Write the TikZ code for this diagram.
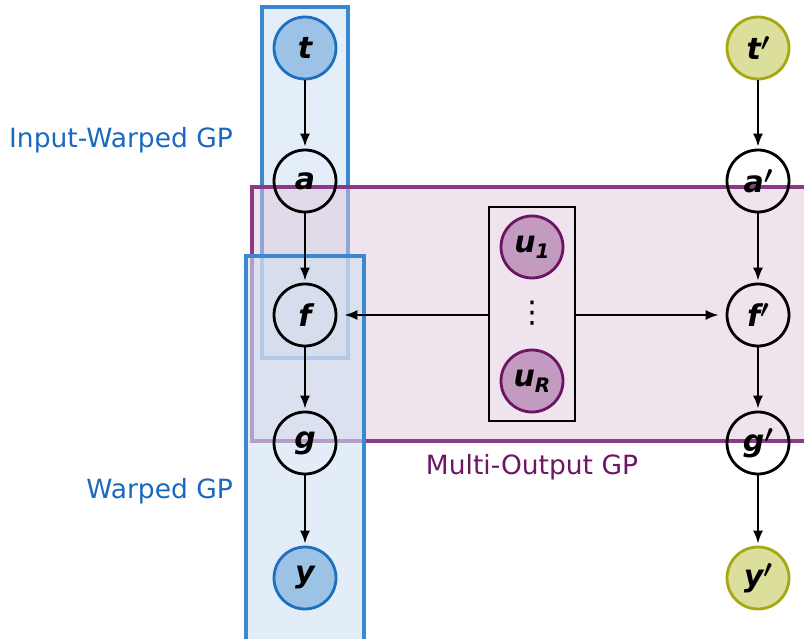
\documentclass[tikz,border=0pt]{standalone}
\usepackage{fontspec}
\setmainfont{DejaVu Sans}
\usetikzlibrary{arrows.meta,fit}

\definecolor{obsblue}{HTML}{9CC2E6}
\definecolor{obsblueline}{HTML}{1F6FBF}
\definecolor{obsolive}{HTML}{DCDE9C}
\definecolor{obsoliveline}{HTML}{A6A812}
\definecolor{indfill}{HTML}{C49BC0}
\definecolor{indline}{HTML}{6C1464}
\definecolor{plateblue}{HTML}{3A88CF}
\definecolor{platepurple}{HTML}{8B3A87}
\definecolor{labelblue}{HTML}{1A68BF}
\definecolor{labelpurple}{HTML}{6E1664}
\definecolor{warpfill}{RGB}{208,225,242}
\definecolor{mofill}{RGB}{223,199,219}

\newcommand{\lowidx}[1]{\raisebox{-0.2em}{\fontsize{20}{20}\selectfont #1}}
\newcommand{\prm}{\raisebox{0.3em}{$\prime$}}

\tikzset{
  latent/.style={circle, draw=black, line width=2.8pt, minimum size=62pt,
    inner sep=0pt, font=\fontsize{30}{30}\selectfont\bfseries\itshape\boldmath},
  obs/.style={latent, draw=obsblueline, fill=obsblue},
  obsb/.style={latent, draw=obsoliveline, fill=obsolive},
  ind/.style={latent, draw=indline, fill=indfill},
  edge/.style={-{Latex[length=13pt,width=10pt]}, line width=2pt, shorten >=2pt},
  plabel/.style={inner sep=0pt, font=\fontsize{26.5}{26.5}\selectfont}
}

\begin{document}
\begin{tikzpicture}[x=1pt,y=-1pt]
  \clip (0,0) rectangle (804,639);
  % plates
  \draw[plateblue, line width=3.8pt, fill=plateblue, fill opacity=0.14]
    (262,7) rectangle (348,358);
  \draw[platepurple, line width=3.8pt, fill=mofill, fill opacity=0.5]
    (252,187) rectangle (840,441);
  \draw[plateblue, line width=3.8pt, fill=warpfill, fill opacity=0.6]
    (246,256) rectangle (364,680);
  % left column
  \node[obs] (t) at (305,48) {t};
  \node[latent] (a) at (305,181) {a};
  \node[latent] (f) at (305,315) {f};
  \node[latent] (g) at (305,443) {g};
  \node[obs] (y) at (305,578) {y};
  % right column
  \node[obsb] (t2) at (758,48) {t\prm};
  \node[latent] (a2) at (758,181) {a\prm};
  \node[latent] (f2) at (758,315) {f\prm};
  \node[latent] (g2) at (758,443) {g\prm};
  \node[obsb] (y2) at (758,578) {y\prm};
  % inducing variables
  \node[ind] (u1) at (532,247) {u\lowidx{1}};
  \node[ind] (uR) at (532,381) {u\lowidx{R}};
  \node[inner sep=0pt, font=\fontsize{30}{30}\selectfont] (dots) at (532,313) {⋮};
  \node[draw, line width=2pt, inner xsep=11pt, inner ysep=8pt, fit=(u1)(uR)] (plate) {};
  % labels
  \node[plabel, text=labelblue, anchor=east] (iwlabel) at (233,140) {Input-Warped GP};
  \node[plabel, text=labelblue, anchor=east] (wlabel) at (233,491) {Warped GP};
  \node[plabel, text=labelpurple] (molabel) at (532,467) {Multi-Output GP};
  % edges
  \draw[edge] (t) -- (a);
  \draw[edge] (a) -- (f);
  \draw[edge] (f) -- (g);
  \draw[edge] (g) -- (y);
  \draw[edge] (t2) -- (a2);
  \draw[edge] (a2) -- (f2);
  \draw[edge] (f2) -- (g2);
  \draw[edge] (g2) -- (y2);
  \draw[edge, shorten >=7pt] (f -| plate.west) -- (f);
  \draw[edge, shorten >=7pt] (f2 -| plate.east) -- (f2);
\end{tikzpicture}
\end{document}
